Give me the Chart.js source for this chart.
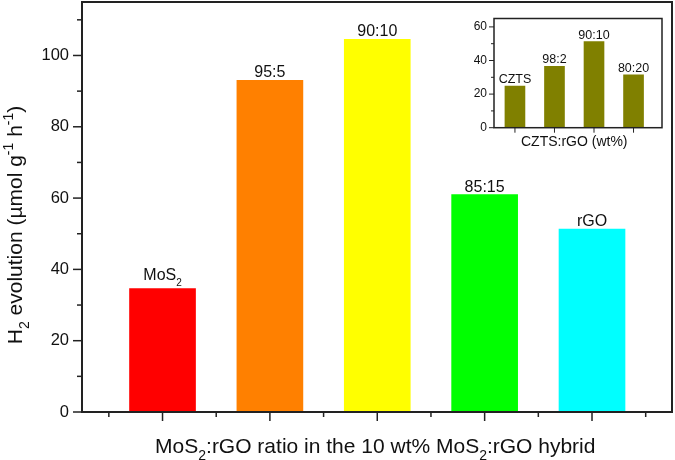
<!DOCTYPE html>
<html>
<head>
<meta charset="utf-8">
<script src="https://cdn.jsdelivr.net/npm/chart.js@4.4.1/dist/chart.umd.min.js"></script>
<style>
  body { margin: 0; background: #fff; }
  #wrap { position: relative; width: 675px; height: 460px; }
  #main { position: absolute; left: 0; top: 0; }
  #inset { position: absolute; left: 460px; top: 4px; }
</style>
</head>
<body>
<div id="wrap">
  <canvas id="main" width="675" height="460"></canvas>
  <canvas id="inset" width="212" height="152"></canvas>
</div>
<script>
// main chart: MoS2:rGO ratio
const ratioPositions = [1, 2, 3, 4, 5];
const ratioLabels = ['MoS_{2}', '95:5', '90:10', '85:15', 'rGO'];
const h2Values = [34.6, 93, 104.5, 61, 51.3];
const barColors = ['#ff0000', '#ff8000', '#ffff00', '#00ff00', '#00ffff'];
const yTicks = [0, 20, 40, 60, 80, 100];
const yMinorTicks = [10, 30, 50, 70, 90, 110];
const xMinorTicks = [0.5, 1.5, 2.5, 3.5, 4.5, 5.5];
const yTitle = 'H_{2} evolution (µmol g^{-1} h^{-1})';
const xTitle = 'MoS_{2}:rGO ratio in the 10 wt% MoS_{2}:rGO hybrid';

// inset chart: CZTS:rGO
const insetPositions = [1, 2, 3, 4];
const insetLabels = ['CZTS', '98:2', '90:10', '80:20'];
const insetValues = [24.7, 36.5, 51.2, 31.5];
const insetYTicks = [0, 20, 40, 60];
const insetYMinor = [10, 30, 50];
const insetTitle = 'CZTS:rGO (wt%)';

const FONT = '"Liberation Sans", Arial, sans-serif';
const INK = '#111';
const AXIS = '#222';
const SUB = 0.33;

// split "a_{b}c^{d}" into normal / sub / sup pieces
function parseRich(str) {
    return str.split(/(_\{[^}]*\}|\^\{[^}]*\})/).filter(s => s).map(s => {
        if (s[0] === '_') return { t: s.slice(2, -1), k: 'sub' };
        if (s[0] === '^') return { t: s.slice(2, -1), k: 'sup' };
        return { t: s, k: 'n' };
    });
}

function drawRich(ctx, str, x, y, size, align) {
    const parts = parseRich(str);
    const small = Math.round(size * 0.65);
    const fontOf = p => (p.k === 'n' ? size : small) + 'px ' + FONT;
    let w = 0;
    parts.forEach(p => { ctx.font = fontOf(p); p.w = ctx.measureText(p.t).width; w += p.w; });
    let cx = align === 'center' ? x - w / 2 : x;
    ctx.textAlign = 'left';
    ctx.textBaseline = 'alphabetic';
    ctx.fillStyle = INK;
    parts.forEach(p => {
        ctx.font = fontOf(p);
        const dy = p.k === 'sub' ? size * SUB : (p.k === 'sup' ? -size * 0.42 : 0);
        ctx.fillText(p.t, cx, y + dy);
        cx += p.w;
    });
}

// label sitting on top of a bar; lift it when it carries a subscript
function barLabel(ctx, str, bar, size) {
    const lift = str.indexOf('_{') >= 0 ? size * SUB : 0;
    drawRich(ctx, str, bar.x, bar.y - 3 - lift, size, 'center');
}

function line(ctx, x1, y1, x2, y2) {
    ctx.beginPath();
    ctx.moveTo(x1, y1);
    ctx.lineTo(x2, y2);
    ctx.stroke();
}

// frame, tick marks, bar labels and axis titles for the main chart
const mainDecor = {
    id: 'mainDecor',
    afterDatasetsDraw(chart) {
        const ctx = chart.ctx;
        const meta = chart.getDatasetMeta(0);
        ctx.save();
        meta.data.forEach((bar, i) => barLabel(ctx, ratioLabels[i], bar, 16));
        ctx.restore();
    },
    afterDraw(chart) {
        const { ctx, chartArea: a, scales: { x, y } } = chart;
        ctx.save();
        ctx.strokeStyle = AXIS;
        ctx.lineWidth = 2;
        ctx.strokeRect(a.left, a.top, a.right - a.left, a.bottom - a.top);
        ctx.lineWidth = 1.5;
        yTicks.forEach(v => { const p = y.getPixelForValue(v); line(ctx, a.left - 9, p, a.left, p); });
        yMinorTicks.forEach(v => { const p = y.getPixelForValue(v); line(ctx, a.left - 5, p, a.left, p); });
        ratioPositions.forEach(v => { const p = x.getPixelForValue(v); line(ctx, p, a.bottom, p, a.bottom + 9); });
        xMinorTicks.forEach(v => { const p = x.getPixelForValue(v); line(ctx, p, a.bottom, p, a.bottom + 5); });

        drawRich(ctx, xTitle, x.getPixelForValue(3) - 2, 453, 21, 'center');
        ctx.translate(22, 225);
        ctx.rotate(-Math.PI / 2);
        drawRich(ctx, yTitle, 0, 0, 21, 'center');
        ctx.restore();
    }
};

new Chart(document.getElementById('main').getContext('2d'), {
    type: 'bar',
    data: {
        datasets: [{
            data: ratioPositions.map((p, i) => ({ x: p, y: h2Values[i] })),
            backgroundColor: barColors,
            borderWidth: 0,
            barThickness: 66
        }]
    },
    options: {
        responsive: false,
        animation: false,
        layout: { padding: { left: 0, right: 3, top: 2, bottom: 48 } },
        plugins: { legend: { display: false }, tooltip: { enabled: false } },
        scales: {
            x: {
                type: 'linear',
                display: false,
                offset: false,
                min: 0.25,
                max: 5.745,
                afterBuildTicks: ax => { ax.ticks = ratioPositions.map(v => ({ value: v })); }
            },
            y: {
                min: 0,
                max: 115,
                afterBuildTicks: ax => { ax.ticks = yTicks.map(v => ({ value: v })); },
                afterFit: ax => { ax.width = 82; ax.paddingTop = 0; ax.paddingBottom = 0; },
                grid: { display: true, drawOnChartArea: false, tickLength: 9, tickColor: 'transparent' },
                border: { display: false },
                ticks: { color: INK, padding: 4, font: { family: FONT, size: 16.5 } }
            }
        }
    },
    plugins: [mainDecor]
});

// inset decorations
const insetDecor = {
    id: 'insetDecor',
    afterDatasetsDraw(chart) {
        const ctx = chart.ctx;
        const meta = chart.getDatasetMeta(0);
        ctx.save();
        meta.data.forEach((bar, i) => barLabel(ctx, insetLabels[i], bar, 12.5));
        ctx.restore();
    },
    afterDraw(chart) {
        const { ctx, chartArea: a, scales: { x, y } } = chart;
        ctx.save();
        ctx.strokeStyle = AXIS;
        ctx.lineWidth = 1.5;
        ctx.strokeRect(a.left, a.top, a.right - a.left, a.bottom - a.top);
        ctx.lineWidth = 1;
        insetYTicks.forEach(v => { const p = y.getPixelForValue(v); line(ctx, a.left - 5, p, a.left, p); });
        insetYMinor.forEach(v => { const p = y.getPixelForValue(v); line(ctx, a.left - 3, p, a.left, p); });
        insetPositions.forEach(v => { const p = x.getPixelForValue(v); line(ctx, p, a.bottom, p, a.bottom + 5); });
        drawRich(ctx, insetTitle, x.getPixelForValue(2.5), 142, 14, 'center');
        ctx.restore();
    }
};

new Chart(document.getElementById('inset').getContext('2d'), {
    type: 'bar',
    data: {
        datasets: [{
            data: insetPositions.map((p, i) => ({ x: p, y: insetValues[i] })),
            backgroundColor: '#808000',
            borderWidth: 0,
            barThickness: 20
        }]
    },
    options: {
        responsive: false,
        animation: false,
        layout: { padding: { left: 0, right: 10, top: 14.5, bottom: 28.3 } },
        plugins: { legend: { display: false }, tooltip: { enabled: false } },
        scales: {
            x: {
                type: 'linear',
                display: false,
                offset: false,
                min: 0.47,
                max: 4.72,
                afterBuildTicks: ax => { ax.ticks = insetPositions.map(v => ({ value: v })); }
            },
            y: {
                min: 0,
                max: 65,
                afterBuildTicks: ax => { ax.ticks = insetYTicks.map(v => ({ value: v })); },
                afterFit: ax => { ax.width = 34; ax.paddingTop = 0; ax.paddingBottom = 0; },
                grid: { display: true, drawOnChartArea: false, tickLength: 5, tickColor: 'transparent' },
                border: { display: false },
                ticks: { color: INK, padding: 2, font: { family: FONT, size: 12 } }
            }
        }
    },
    plugins: [insetDecor]
});
</script>
</body>
</html>
